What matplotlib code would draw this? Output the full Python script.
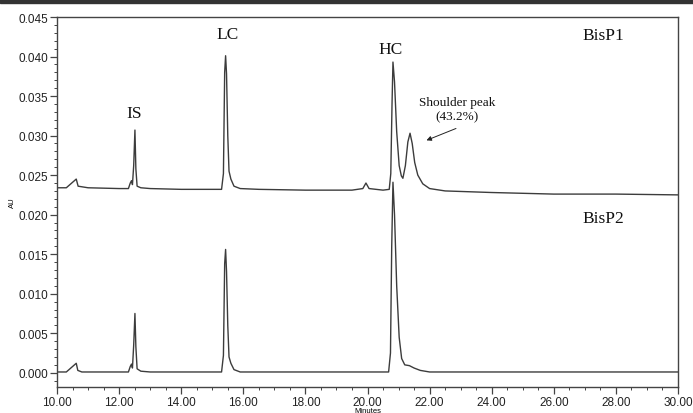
import numpy as np
import matplotlib.pyplot as plt
from matplotlib.ticker import MultipleLocator, FormatStrFormatter
from matplotlib.patches import Rectangle

# retention time (min) and absorbance (AU) for the two samples
t_bisp1 = [10.0, 10.3, 10.62, 10.68, 11.0, 12.0, 12.3, 12.36, 12.40, 12.43, 12.47, 12.51,
           12.54, 12.58, 12.7, 13.0, 14.0, 15.3, 15.36, 15.40, 15.43, 15.46, 15.50, 15.54,
           15.60, 15.7, 15.9, 16.5, 18.0, 19.5, 19.85, 19.95, 20.05, 20.5, 20.70, 20.75,
           20.79, 20.82, 20.87, 20.94, 21.02, 21.09, 21.14, 21.22, 21.30, 21.37, 21.44,
           21.52, 21.62, 21.78, 22.0, 22.5, 24.0, 26.0, 28.0, 30.0]
au_bisp1 = [0.0234, 0.0234, 0.0245, 0.0236, 0.0234, 0.0233, 0.0233, 0.0240, 0.0243, 0.0238,
            0.0262, 0.0307, 0.0258, 0.0236, 0.0234, 0.0233, 0.0232, 0.0232, 0.0252, 0.0380,
            0.0401, 0.0378, 0.0300, 0.0255, 0.0245, 0.0236, 0.0233, 0.0232, 0.0231, 0.0231,
            0.0233, 0.0240, 0.0233, 0.0231, 0.0232, 0.0252, 0.0340, 0.0393, 0.0368, 0.0305,
            0.0262, 0.0249, 0.0246, 0.0262, 0.0292, 0.0303, 0.0290, 0.0266, 0.0250, 0.0239,
            0.0233, 0.0230, 0.0228, 0.0226, 0.0226, 0.0225]

t_bisp2 = [10.0, 10.3, 10.62, 10.67, 10.8, 12.3, 12.36, 12.40, 12.43, 12.47, 12.51, 12.54,
           12.58, 12.7, 13.0, 15.3, 15.36, 15.40, 15.43, 15.46, 15.50, 15.54, 15.60, 15.7,
           15.9, 20.68, 20.74, 20.78, 20.82, 20.87, 20.94, 21.02, 21.1, 21.2, 21.35, 21.5,
           21.7, 22.0, 30.0]
au_bisp2 = [0.0001, 0.0001, 0.0012, 0.0003, 0.0001, 0.0001, 0.0008, 0.0011, 0.0006, 0.0035,
            0.0075, 0.0033, 0.0005, 0.0002, 0.0001, 0.0001, 0.0022, 0.0138, 0.0156, 0.0128,
            0.0060, 0.0020, 0.0012, 0.0004, 0.0001, 0.0001, 0.0025, 0.0160, 0.0241, 0.0200,
            0.0110, 0.0045, 0.0018, 0.0010, 0.0009, 0.0006, 0.0003, 0.0001, 0.0001]

peak_labels = ['IS', 'LC', 'HC']
peak_label_pos = [(12.48, 0.0319), (15.48, 0.0418), (20.75, 0.0399)]
sample_labels = ['BisP1', 'BisP2']
sample_label_pos = [(27.6, 0.0427), (27.6, 0.0196)]

line_color = '#3c3c3c'
serif = 'Liberation Serif'

fig = plt.figure(figsize=(6.93, 4.14), dpi=100)
ax = fig.add_axes([57 / 693, 1 - 388 / 414, 621 / 693, 370 / 414])

ax.plot(t_bisp1, au_bisp1, color=line_color, lw=1.0)
ax.plot(t_bisp2, au_bisp2, color=line_color, lw=1.0)

for label, (x, y) in zip(peak_labels, peak_label_pos):
    ax.text(x, y, label, family=serif, fontsize=12.5, ha='center', va='bottom', color='#111111')
for label, (x, y) in zip(sample_labels, sample_label_pos):
    ax.text(x, y, label, family=serif, fontsize=12.5, ha='center', va='center', color='#111111')

# shoulder peak note with its pointer
ax.text(22.88, 0.0317, 'Shoulder peak\n(43.2%)', family=serif, fontsize=9.5,
        ha='center', va='bottom', color='#111111', linespacing=1.25)
ax.annotate('', xy=(21.9, 0.0294), xytext=(22.85, 0.0309),
            arrowprops=dict(arrowstyle='-|>', color='#222222', lw=0.7,
                            mutation_scale=7, shrinkA=0, shrinkB=0))

ax.set_xlim(10, 30)
ax.set_ylim(-0.0018, 0.045)
ax.xaxis.set_major_locator(MultipleLocator(2))
ax.xaxis.set_minor_locator(MultipleLocator(0.5))
ax.xaxis.set_major_formatter(FormatStrFormatter('%.2f'))
ax.yaxis.set_major_locator(MultipleLocator(0.005))
ax.yaxis.set_minor_locator(MultipleLocator(0.001))
ax.yaxis.set_major_formatter(FormatStrFormatter('%.3f'))

for side in ax.spines.values():
    side.set_color('#444444')
    side.set_linewidth(1.0)

ax.tick_params(which='major', length=5, width=0.9, color='#444444', labelsize=8.5,
               labelcolor='#222222', pad=1.5)
ax.tick_params(which='minor', length=2.5, width=0.7, color='#444444')
for lab in ax.get_xticklabels() + ax.get_yticklabels():
    lab.set_family('Liberation Sans')

ax.set_xlabel('Minutes', fontsize=5.5, family='Liberation Sans')
ax.set_ylabel('AU', fontsize=5.5, family='Liberation Sans')
ax.xaxis.set_label_coords(0.5, -0.054)
ax.yaxis.set_label_coords(-0.066, 0.5)

# dark strip along the top edge
fig.patches.append(Rectangle((0, 1 - 4 / 414), 1, 4 / 414, transform=fig.transFigure,
                             color='#333333', zorder=10))

fig.savefig('out.png', dpi=100)
